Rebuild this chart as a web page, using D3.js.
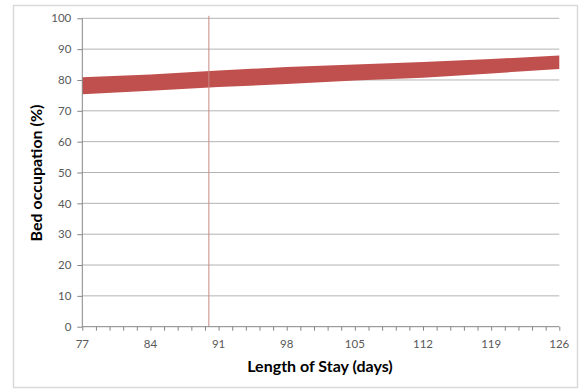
<!DOCTYPE html>
<html>
<head>
<meta charset="utf-8">
<script src="https://cdn.jsdelivr.net/npm/d3@7"></script>
<style>
  html, body { margin: 0; padding: 0; background: #fff; }
  svg { display: block; }
</style>
</head>
<body>
<svg id="chart" width="579" height="389"></svg>
<script>
// Length of stay (days) and the band of bed occupation (%) it yields
const days  = [77, 84, 91, 98, 105, 112, 119, 126];
const upper = [80.9, 81.8, 83.1, 84.2, 85.0, 85.8, 86.8, 87.9];
const lower = [75.4, 76.5, 77.7, 78.7, 79.8, 80.7, 82.1, 83.6];

// Axis ticks
const yTicks = [0, 10, 20, 30, 40, 50, 60, 70, 80, 90, 100];
const xTickLabels = [77, 84, 91, 98, 105, 112, 119, 126];
const xMinorStep = 1.4;

// Reference marker on the stay axis
const markerDay = 90;

const svg = d3.select("#chart");
const plot = { left: 82.3, right: 559.3, top: 18.3, bottom: 326.7 };

// Outer chart frame
svg.append("rect")
  .attr("x", 13.5).attr("y", 5.5)
  .attr("width", 564).attr("height", 382)
  .attr("fill", "#fff")
  .attr("stroke", "#d9d9d9")
  .attr("stroke-width", 1.5);

const x = d3.scaleLinear().domain([77, 126]).range([plot.left, plot.right]);
const y = d3.scaleLinear().domain([0, 100]).range([plot.bottom, plot.top]);

const font = "Lato, 'Open Sans', sans-serif";

// Horizontal gridlines
svg.append("g")
  .selectAll("line")
  .data(yTicks.filter(d => d > 0))
  .join("line")
  .attr("x1", plot.left).attr("x2", plot.right)
  .attr("y1", d => y(d)).attr("y2", d => y(d))
  .attr("stroke", "#b3b3b3")
  .attr("stroke-width", 1);

// Occupation band
const band = days.map((d, i) => ({ d, lo: lower[i], hi: upper[i] }));
svg.append("path")
  .datum(band)
  .attr("fill", "#c0504d")
  .attr("d", d3.area()
    .x(p => x(p.d))
    .y0(p => y(p.lo))
    .y1(p => y(p.hi)));

// Marker line
svg.append("line")
  .attr("x1", x(markerDay)).attr("x2", x(markerDay))
  .attr("y1", y(100.8)).attr("y2", y(0))
  .attr("stroke", "#c98a82")
  .attr("stroke-width", 1);

// Y axis
const yAxis = d3.axisLeft(y)
  .tickValues(yTicks)
  .tickSize(5)
  .tickPadding(6)
  .tickFormat(d3.format("d"));
const gy = svg.append("g").attr("transform", `translate(${plot.left},0)`).call(yAxis);
gy.select(".domain").attr("stroke", "#868686").attr("d", `M0,${plot.top}V${plot.bottom}`);
gy.selectAll(".tick line").attr("stroke", "#868686");
gy.selectAll(".tick text")
  .attr("fill", "#595959")
  .style("font-family", font)
  .style("font-size", "11.5px");

// X axis: minor ticks every 1.4 days, labels every 7
const minor = d3.range(0, 36).map(i => 77 + i * xMinorStep);
const xAxis = d3.axisBottom(x)
  .tickValues(minor)
  .tickSize(4)
  .tickFormat("");
const gx = svg.append("g").attr("transform", `translate(0,${plot.bottom})`).call(xAxis);
gx.select(".domain").attr("stroke", "#868686").attr("d", `M${plot.left},0H${plot.right}`);
gx.selectAll(".tick line").attr("stroke", "#868686");

svg.append("g")
  .selectAll("text")
  .data(xTickLabels)
  .join("text")
  .attr("x", d => x(d))
  .attr("y", 348)
  .attr("text-anchor", "middle")
  .attr("fill", "#595959")
  .style("font-family", font)
  .style("font-size", "11.5px")
  .text(d => d);

// Axis titles
svg.append("text")
  .attr("x", 320).attr("y", 372)
  .attr("text-anchor", "middle")
  .attr("fill", "#000")
  .style("font-family", font)
  .style("font-size", "16px")
  .style("font-weight", "bold")
  .text("Length of Stay (days)");

svg.append("text")
  .attr("transform", "translate(42,173) rotate(-90)")
  .attr("text-anchor", "middle")
  .attr("fill", "#000")
  .style("font-family", font)
  .style("font-size", "16px")
  .style("font-weight", "bold")
  .text("Bed occupation (%)");
</script>
</body>
</html>
